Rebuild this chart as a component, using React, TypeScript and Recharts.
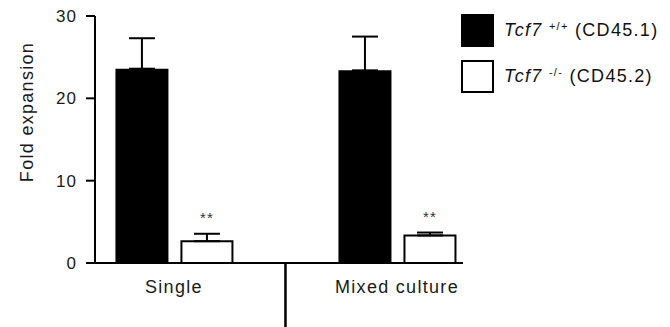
import { BarChart, Bar, XAxis, YAxis, ErrorBar, LabelList, Label, ReferenceLine } from 'recharts';

const groups = ['Single', 'Mixed culture'];
const wtMean = [23.6, 23.4];
const wtSem = [3.7, 4.1];
const koMean = [2.65, 3.35];
const koSem = [0.9, 0.35];
const koSig = ['**', '**'];
const yTicks = [0, 10, 20, 30];

const gene = 'Tcf7';
const genotypes = ['+/+', '-/-'];
const markers = ['(CD45.1)', '(CD45.2)'];
const swatches = ['#000', '#fff'];

const FONT = '"Liberation Sans", Arial, sans-serif';

// bars are grouped around numeric positions 0 and 1 (one per culture condition)
const data = groups.map((group, i) => ({
  group,
  pos: i,
  wt: wtMean[i],
  wtErr: [0, wtSem[i]],
  ko: koMean[i],
  koErr: [0, koSem[i]],
  sig: koSig[i],
}));

function GroupTick(props: any) {
  const { x, y, payload } = props;
  return (
    <text x={x} y={y + 30} textAnchor="middle" fontSize={18} letterSpacing={1.3} fill="#1a1a1a" fontFamily={FONT}>
      {groups[payload.value]}
    </text>
  );
}

function renderSig(props: any) {
  const vb = props.viewBox ?? props;
  const v = koMean[props.index];
  const perUnit = vb.height / v;
  const capY = vb.y - koSem[props.index] * perUnit;
  return (
    <text x={vb.x + vb.width / 2} y={capY - 11} textAnchor="middle" fontSize={15} letterSpacing={1} fill="#333" fontFamily={FONT}>
      {props.value}
    </text>
  );
}

function renderYTitle(props: any) {
  const vb = props.viewBox ?? { x: 0, y: 16 };
  const x = vb.x + 33;
  const y = vb.y + 96;
  return (
    <text x={x} y={y} transform={`rotate(-90, ${x}, ${y})`} textAnchor="middle" fontSize={18} letterSpacing={1.3} fill="#1a1a1a" fontFamily={FONT}>
      Fold expansion
    </text>
  );
}

function GenotypeLegend() {
  return (
    <div style={{ position: 'absolute', left: 461, top: 14, fontFamily: FONT, fontSize: 18, letterSpacing: 1.3, color: '#111' }}>
      {genotypes.map((g, i) => (
        <div key={g} style={{ display: 'flex', alignItems: 'center', height: 33, marginBottom: 13 }}>
          <div style={{ width: 33, height: 33, boxSizing: 'border-box', border: '2px solid #000', background: swatches[i] }} />
          <span style={{ marginLeft: 10, whiteSpace: 'nowrap' }}>
            <i>{gene}</i>{' '}
            <span style={{ fontSize: 11, position: 'relative', top: -6 }}>{g}</span>{' '}
            {markers[i]}
          </span>
        </div>
      ))}
    </div>
  );
}

export default function App() {
  return (
    <div style={{ position: 'absolute', left: 0, top: 0, width: 670, height: 327, background: '#fff' }}>
      <BarChart width={670} height={327} data={data} margin={{ top: 16, right: 207, bottom: 0, left: 0 }} barGap={13}>
        <XAxis
          dataKey="pos"
          type="number"
          domain={[-0.354, 1.296]}
          allowDataOverflow
          ticks={[0, 1]}
          tickCount={2}
          interval={0}
          tick={<GroupTick />}
          tickLine={false}
          tickSize={0}
          tickMargin={0}
          axisLine={{ stroke: '#000', strokeWidth: 2 }}
          height={64}
        />
        <YAxis
          type="number"
          domain={[0, 30]}
          ticks={yTicks}
          width={95}
          tickSize={9}
          tickMargin={9}
          axisLine={{ stroke: '#000', strokeWidth: 2 }}
          tickLine={{ stroke: '#000', strokeWidth: 2 }}
          tick={{ fontSize: 17, fill: '#1a1a1a', fontFamily: FONT, letterSpacing: 1 }}
        >
          <Label content={renderYTitle} />
        </YAxis>
        {/* separator between the two conditions, running down below the axis */}
        <ReferenceLine
          segment={[{ x: 0.5, y: 0 }, { x: 0.5, y: -8 }]}
          ifOverflow="visible"
          stroke="#000"
          strokeWidth={2.5}
        />
        <Bar dataKey="wt" fill="#000" barSize={53} isAnimationActive={false}>
          <ErrorBar dataKey="wtErr" direction="y" width={13} stroke="#000" strokeWidth={2} />
        </Bar>
        <Bar dataKey="ko" fill="#fff" stroke="#000" strokeWidth={2} barSize={51} isAnimationActive={false}>
          <ErrorBar dataKey="koErr" direction="y" width={13} stroke="#000" strokeWidth={2} />
          <LabelList dataKey="sig" content={renderSig} />
        </Bar>
      </BarChart>
      <GenotypeLegend />
    </div>
  );
}
